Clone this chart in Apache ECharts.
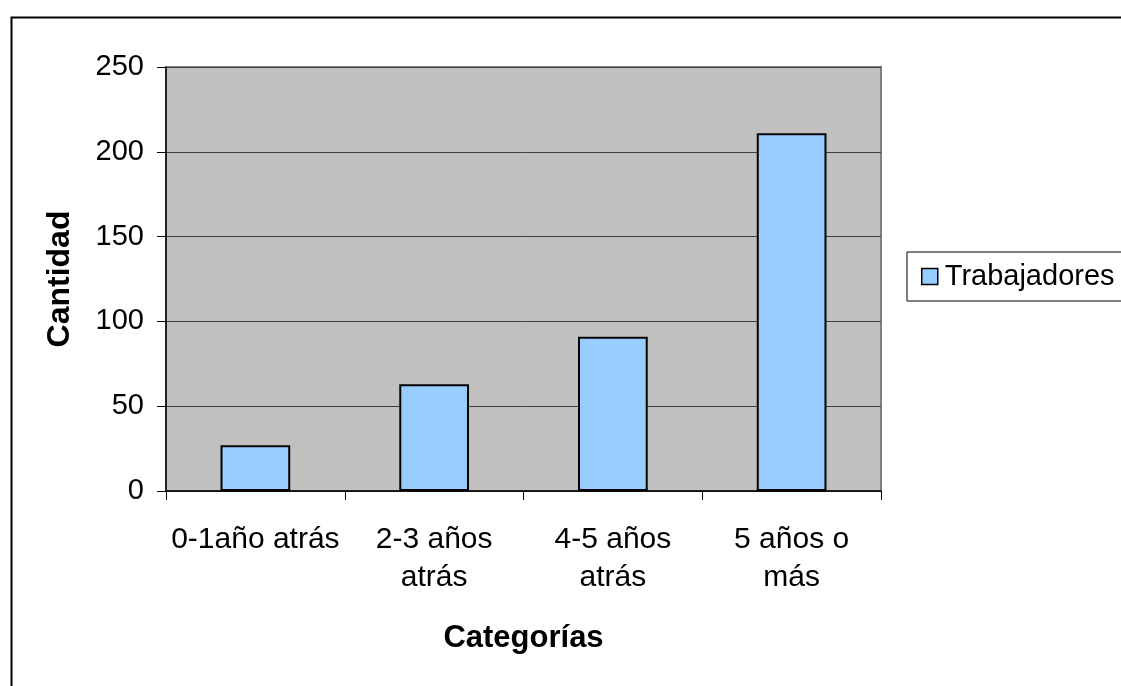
<!DOCTYPE html>
<html>
<head>
<meta charset="utf-8">
<script src="https://cdn.jsdelivr.net/npm/echarts@6/dist/echarts.min.js"></script>
<style>
  html, body { margin: 0; padding: 0; background: #fff; }
  #chart { width: 1121px; height: 686px; }
</style>
</head>
<body>
<div id="chart"></div>
<script>
// Workers grouped by how long ago they joined
const categories = ['0-1año atrás', '2-3 años\natrás', '4-5 años\natrás', '5 años o\nmás'];
const trabajadores = [27, 63, 91, 211];
const seriesName = 'Trabajadores';
const yTicks = { min: 0, max: 250, interval: 50 };

const FONT = '"Liberation Sans", Arial, sans-serif';

const chart = echarts.init(document.getElementById('chart'));
chart.setOption({
  animation: false,
  backgroundColor: '#ffffff',
  textStyle: { fontFamily: FONT },
  graphic: [{
    type: 'rect',
    left: 9, top: 15,
    shape: { width: 1300, height: 900 },
    style: { fill: 'none', stroke: '#000', lineWidth: 2 },
    silent: true,
    z: -1
  }],
  grid: {
    left: 166, top: 67, right: 240, bottom: 195,
    show: true,
    backgroundColor: '#C0C0C0',
    borderColor: '#808080',
    borderWidth: 2
  },
  legend: {
    left: 907, top: 252,
    orient: 'vertical',
    data: [seriesName],
    icon: 'rect',
    itemWidth: 16, itemHeight: 16, itemGap: 10,
    padding: [10, 30, 10, 14],
    borderColor: '#000', borderWidth: 1,
    textStyle: { fontSize: 29, color: '#000', fontFamily: FONT, padding: [0, 0, 0, 2] },
    itemStyle: { borderColor: '#000', borderWidth: 1.5 }
  },
  xAxis: {
    type: 'category',
    data: categories,
    name: 'Categorías',
    nameLocation: 'middle',
    nameGap: 132,
    nameTextStyle: { fontSize: 31, fontWeight: 'bold', color: '#000', fontFamily: FONT },
    axisLine: { lineStyle: { color: '#000', width: 1.5 } },
    axisTick: { show: true, length: 9, lineStyle: { color: '#000', width: 1 } },
    axisLabel: { fontSize: 30, color: '#000', margin: 30, lineHeight: 38, fontFamily: FONT, interval: 0 },
    splitLine: { show: false }
  },
  yAxis: {
    type: 'value',
    min: yTicks.min, max: yTicks.max, interval: yTicks.interval,
    name: 'Cantidad',
    nameLocation: 'middle',
    nameGap: 90,
    nameRotate: 90,
    nameTextStyle: { fontSize: 32, fontWeight: 'bold', color: '#000', fontFamily: FONT },
    axisLine: { show: true, lineStyle: { color: '#000', width: 1.5 } },
    axisTick: { show: true, length: 9, lineStyle: { color: '#000', width: 1 } },
    axisLabel: { fontSize: 29, color: '#000', margin: 22, fontFamily: FONT },
    splitLine: { show: true, lineStyle: { color: '#404040', width: 1 } }
  },
  series: [{
    name: seriesName,
    type: 'bar',
    data: trabajadores,
    barCategoryGap: '61%',
    itemStyle: { color: '#99CCFF', borderColor: '#000', borderWidth: 2 }
  }]
});
</script>
</body>
</html>
